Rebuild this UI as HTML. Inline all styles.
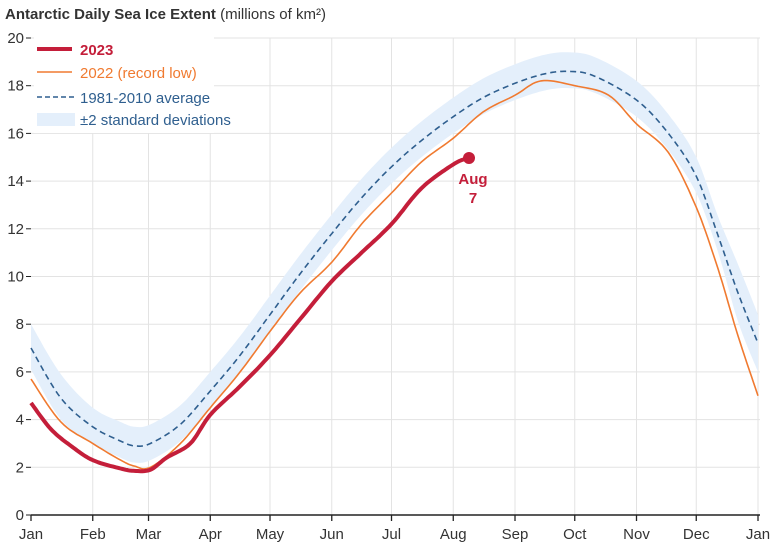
<!DOCTYPE html><html><head><meta charset="utf-8"><style>body{margin:0;background:#fff}svg{display:block;font-family:"Liberation Sans",sans-serif}</style></head><body>
<svg id="s" width="777" height="550" xmlns="http://www.w3.org/2000/svg">
<text x="5" y="19" font-size="15" fill="#333"><tspan font-weight="bold">Antarctic Daily Sea Ice Extent</tspan> (millions of km²)</text>
<g id="grid" stroke="#e3e3e3" stroke-width="1"></g>
<path id="band" fill="#e4effb"/>
<path id="avg" fill="none" stroke="#2f5f8f" stroke-width="1.6" stroke-dasharray="6,4"/>
<path id="y22" fill="none" stroke="#f07a30" stroke-width="1.6"/>
<path id="y23" fill="none" stroke="#c41e3a" stroke-width="4" stroke-linejoin="round"/>
<circle cx="469" cy="158" r="6" fill="#c41e3a"/>
<text x="473" y="184" font-size="15" font-weight="bold" fill="#c41e3a" text-anchor="middle">Aug</text>
<text x="473" y="203" font-size="15" font-weight="bold" fill="#c41e3a" text-anchor="middle">7</text>
<g id="ax" font-size="15" fill="#333"></g>
<line x1="31" y1="515" x2="760" y2="515" stroke="#222" stroke-width="1.5"/>
<rect x="34" y="37" width="180" height="96" fill="#fff"/>
<line x1="37" y1="49" x2="72" y2="49" stroke="#c41e3a" stroke-width="4"/>
<text x="80" y="55" font-size="15" font-weight="bold" fill="#c41e3a">2023</text>
<line x1="37" y1="72" x2="72" y2="72" stroke="#f07a30" stroke-width="1.6"/>
<text x="80" y="78" font-size="15" fill="#f07a30">2022 (record low)</text>
<line x1="37" y1="97" x2="76" y2="97" stroke="#2f5f8f" stroke-width="1.6" stroke-dasharray="5,3"/>
<text x="80" y="103" font-size="15" fill="#2f5f8f">1981-2010 average</text>
<rect x="37" y="113" width="38" height="13" fill="#e4effb"/>
<text x="80" y="125" font-size="15" fill="#2f5f8f">±2 standard deviations</text>
</svg>
<script>
const X=d=>31+d*727/365,Y=v=>515-v*23.85;
const M=[0,31,59,90,120,151,181,212,243,273,304,334,365],N=["Jan","Feb","Mar","Apr","May","Jun","Jul","Aug","Sep","Oct","Nov","Dec","Jan"];
let g="",a="";
M.forEach((d,i)=>{let x=X(d);if(i>0)g+=`<line x1="${x}" y1="38" x2="${x}" y2="515"/>`;a+=`<line x1="${x}" y1="515" x2="${x}" y2="521" stroke="#222" stroke-width="1.3"/><text x="${x}" y="539" text-anchor="middle">${N[i]}</text>`});
for(let v=2;v<=20;v+=2)g+=`<line x1="31" y1="${Y(v)}" x2="760" y2="${Y(v)}"/>`;
for(let v=0;v<=20;v+=2)a+=`<text x="24" y="${Y(v)+5}" text-anchor="end">${v}</text><line x1="26" y1="${Y(v)}" x2="31" y2="${Y(v)}" stroke="#222"/>`;
document.getElementById("grid").innerHTML=g;document.getElementById("ax").innerHTML=a;
function sm(p){let o=[];for(let i=0;i<p.length-1;i++){let p0=p[Math.max(0,i-1)],p1=p[i],p2=p[i+1],p3=p[Math.min(p.length-1,i+2)];for(let t=0;t<1;t+=0.1){let t2=t*t,t3=t2*t;let f=(a,b,c,d)=>0.5*(2*b+(-a+c)*t+(2*a-5*b+4*c-d)*t2+(-a+3*b-3*c+d)*t3);o.push([f(p0[0],p1[0],p2[0],p3[0]),f(p0[1],p1[1],p2[1],p3[1])])}}o.push(p[p.length-1]);return o}
const P=(pts)=>sm(pts.map(([d,v])=>[X(d),Y(v)]));
const path=q=>"M"+q.map(p=>p[0].toFixed(1)+","+p[1].toFixed(1)).join("L");
const avg=[[0,7.0],[15,4.9],[31,3.7],[45,3.1],[52,2.9],[60,3.0],[75,3.8],[90,5.2],[105,6.7],[120,8.4],[135,10.1],[151,11.8],[166,13.3],[181,14.6],[196,15.7],[212,16.7],[227,17.5],[243,18.1],[258,18.5],[270,18.6],[283,18.4],[304,17.4],[320,16.0],[334,14.2],[345,11.7],[355,9.3],[365,7.2]];
const hi=avg.map(([d,v])=>[d,v+(d<20?1.0:d>345?1.2:0.8)]),lo=avg.map(([d,v])=>[d,v-(d<20?0.9:d>345?1.2:0.7)]);
document.getElementById("band").setAttribute("d",path(P(hi))+"L"+P(lo).reverse().map(p=>p[0].toFixed(1)+","+p[1].toFixed(1)).join("L")+"Z");
document.getElementById("avg").setAttribute("d",path(P(avg)));
const y22=[[0,5.7],[15,3.9],[31,3.0],[45,2.3],[52,2.05],[60,2.0],[75,3.0],[90,4.5],[105,6.0],[120,7.7],[135,9.3],[151,10.6],[166,12.2],[181,13.5],[196,14.8],[212,15.8],[227,16.9],[243,17.6],[256,18.2],[273,18.0],[290,17.6],[304,16.4],[320,15.2],[334,12.9],[345,10.3],[355,7.5],[365,5.0]];
document.getElementById("y22").setAttribute("d",path(P(y22)));
const y23=[[0,4.7],[10,3.6],[20,2.9],[31,2.3],[45,1.95],[52,1.85],[60,1.9],[68,2.4],[80,3.0],[90,4.2],[105,5.4],[120,6.7],[135,8.2],[151,9.8],[166,11.0],[181,12.2],[196,13.7],[212,14.7],[219,14.95]];
document.getElementById("y23").setAttribute("d",path(P(y23)));
</script></body></html>
